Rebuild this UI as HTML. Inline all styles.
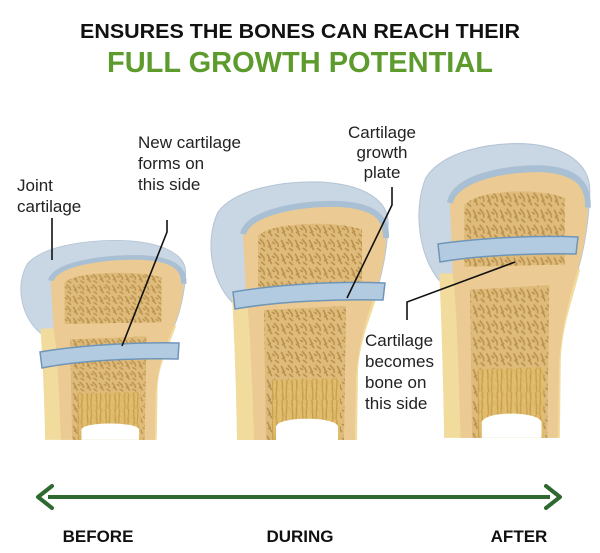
<!DOCTYPE html>
<html><head><meta charset="utf-8"><style>
html,body{margin:0;padding:0;background:#fff;}
svg{display:block;}
text{font-family:"Liberation Sans",sans-serif;}
</style></head><body>
<svg width="600" height="553" viewBox="0 0 600 553" xmlns="http://www.w3.org/2000/svg">
<defs>
<pattern id="sp" width="14" height="14" patternUnits="userSpaceOnUse">
<rect width="14" height="14" fill="#dcb878"/>
<path d="M1,2 C4,5 3,9 6,12 M8,1 C10,4 13,5 12,9 M2,9 L5,7 M9,10 L13,13 M6,4 L9,6" stroke="#b58c45" stroke-width="1.6" fill="none"/>
</pattern>
<pattern id="st" width="10" height="20" patternUnits="userSpaceOnUse">
<rect width="10" height="20" fill="#e2bd6c"/>
<path d="M2,0 L3,20 M7,0 L6,20" stroke="#c79d4a" stroke-width="1.4"/>
</pattern>
<g id="bone">
<path d="M232,302 C212,282 204,242 218,212 C236,188 285,181 320,182 C360,184 390,198 388,226 C387,250 382,275 376,292 Z" fill="#c9d6e3" stroke="#b3c4d4" stroke-width="1"/>
<path d="M232,296 L378,292 C370,320 360,340 358,370 L357,440 L237,440 C236,380 234,330 232,296 Z" fill="#f1dc9d"/>
<path d="M243,234 C248,212 300,203 340,204 C372,206 387,216 386,238 C385,262 380,280 375,294 C366,320 358,345 356,380 L355,440 L254,440 C252,380 250,320 246,296 Z" fill="#ebcb93"/>
<path d="M243,234 C248,212 300,203 340,204 C372,206 387,216 386,238" stroke="#a9bfd3" stroke-width="6" fill="none"/>
<path d="M258,236 C270,222 340,220 362,230 L362,288 L258,290 Z" fill="url(#sp)" opacity="0.9"/>
<path d="M264,310 L346,306 L344,440 L266,440 Z" fill="url(#sp)" opacity="0.9"/>
<path d="M272,380 L340,378 L340,440 L272,440 Z" fill="url(#st)" opacity="0.85"/>
<path d="M276,440 L276,427 C276,416 338,416 338,427 L338,440 Z" fill="#ffffff"/>
</g>
</defs>

<text x="300" y="38" text-anchor="middle" font-size="20" font-weight="bold" fill="#111" textLength="440" lengthAdjust="spacingAndGlyphs">ENSURES THE BONES CAN REACH THEIR</text>
<text x="300" y="72" text-anchor="middle" font-size="29" font-weight="bold" fill="#5c9b2c" textLength="386" lengthAdjust="spacingAndGlyphs">FULL GROWTH POTENTIAL</text>

<!-- left bone -->
<g transform="translate(20,242) scale(0.93,0.773) translate(-210,-184)"><use href="#bone"/></g>
<path d="M40,352 C80,345 140,342 179,343 L178,359 C140,358 80,360 42,368 Z" fill="#b3cbe0" stroke="#6f96b8" stroke-width="1.5"/>
<!-- middle bone -->
<use href="#bone"/>
<path d="M233,292 C280,284 340,281 385,283 L383,300 C340,299 280,301 235,309 Z" fill="#b3cbe0" stroke="#6f96b8" stroke-width="1.5"/>
<!-- right bone -->
<g transform="translate(418,146) scale(0.965,1.14) translate(-210,-184)"><use href="#bone"/></g>
<path d="M438,244 C480,238 540,235 578,237 L576,254 C540,253 480,255 440,262 Z" fill="#b3cbe0" stroke="#6f96b8" stroke-width="1.5"/>

<!-- labels -->
<g font-size="17" fill="#222">
<text x="17" y="191">Joint</text>
<text x="17" y="212">cartilage</text>
<text x="138" y="148">New cartilage</text>
<text x="138" y="169">forms on</text>
<text x="138" y="190">this side</text>
<text x="382" y="138" text-anchor="middle">Cartilage</text>
<text x="382" y="158" text-anchor="middle">growth</text>
<text x="382" y="178" text-anchor="middle">plate</text>
<text x="365" y="346">Cartilage</text>
<text x="365" y="367">becomes</text>
<text x="365" y="388">bone on</text>
<text x="365" y="409">this side</text>
</g>
<g stroke="#111" stroke-width="1.6" fill="none">
<path d="M52,218 L52,260"/>
<path d="M167,220 L167,232 L122,346"/>
<path d="M392,187 L392,205 L347,298"/>
<path d="M407,320 L407,302 L515,262"/>
</g>

<!-- arrow -->
<line x1="48" y1="497" x2="550" y2="497" stroke="#2e6a2f" stroke-width="4"/>
<path d="M52,486 L38,497 L52,508" stroke="#2e6a2f" stroke-width="4" fill="none" stroke-linecap="round" stroke-linejoin="round"/>
<path d="M546,486 L560,497 L546,508" stroke="#2e6a2f" stroke-width="4" fill="none" stroke-linecap="round" stroke-linejoin="round"/>

<g font-size="17" font-weight="bold" fill="#111" text-anchor="middle">
<text x="98" y="542">BEFORE</text>
<text x="300" y="542">DURING</text>
<text x="519" y="542">AFTER</text>
</g>
</svg>
</body></html>
